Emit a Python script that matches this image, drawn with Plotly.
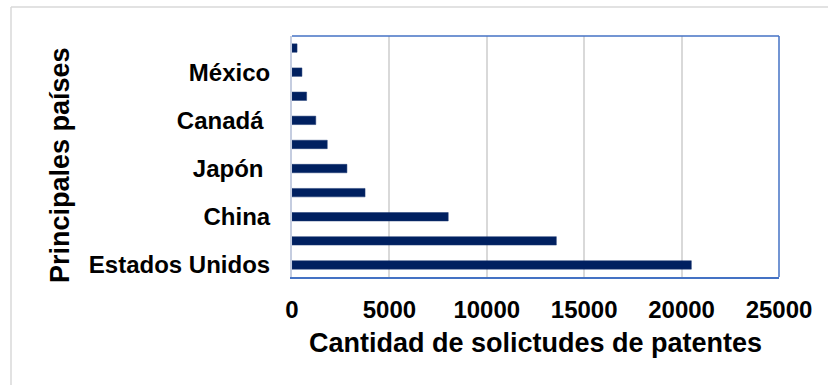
import plotly.graph_objects as go

# Data (bottom to top)
labels = ["Estados Unidos", "", "China", "", "Japón\u00a0", "", "Canadá\u00a0", "", "México", ""]
values = [20500, 13570, 8020, 3750, 2820, 1810, 1220, 750, 510, 260]
x_ticks = [0, 5000, 10000, 15000, 20000, 25000]
x_title = "Cantidad de solictudes de patentes"
y_title = "Principales países"

positions = list(range(len(values)))
tick_pos = [p for p, l in zip(positions, labels) if l]
tick_txt = [l for l in labels if l]

W, H = 828, 385
L, R, T, B = 292, 779, 36, 277

def px_x(px):
    return (px - L) / (R - L)

def px_y(py):
    return (B - py) / (B - T)

font_family = "Arial, 'Liberation Sans', sans-serif"

fig = go.Figure(
    go.Bar(
        x=values,
        y=positions,
        orientation="h",
        marker=dict(color="#002060", line=dict(color="#1f3a75", width=0.5)),
        width=0.35,
    )
)

fig.update_layout(
    width=W,
    height=H,
    margin=dict(l=L, r=W - R, t=T, b=H - B, pad=0),
    paper_bgcolor="white",
    plot_bgcolor="white",
    showlegend=False,
    font=dict(family=font_family, color="black", size=24, weight="bold"),
    xaxis=dict(
        range=[0, 25000],
        tickvals=x_ticks,
        ticktext=[str(v) for v in x_ticks],
        showgrid=True,
        gridcolor="#d9d9d9",
        gridwidth=1.5,
        zeroline=False,
        showline=True,
        linecolor="#4472c4",
        linewidth=1.5,
        ticks="",
        ticklabelstandoff=10,
        tickfont=dict(size=24, weight="bold", family=font_family),
        fixedrange=True,
    ),
    yaxis=dict(
        range=[-0.5, len(values) - 0.5],
        tickvals=tick_pos,
        ticktext=tick_txt,
        showgrid=False,
        zeroline=False,
        showline=True,
        linecolor="#c5cde0",
        linewidth=2,
        ticks="",
        ticklabelstandoff=15,
        tickfont=dict(size=24, weight="bold", family=font_family),
        fixedrange=True,
    ),
    shapes=[
        # plot frame top/right in blue
        dict(type="line", xref="paper", yref="paper", x0=0, x1=1, y0=1, y1=1,
             line=dict(color="#4472c4", width=1.5), layer="above"),
        dict(type="line", xref="paper", yref="paper", x0=1, x1=1, y0=0, y1=1,
             line=dict(color="#4472c4", width=1.5), layer="above"),
        # outer chart border (top and left visible)
        dict(type="line", xref="paper", yref="paper", x0=px_x(11), x1=px_x(830), y0=px_y(7), y1=px_y(7),
             line=dict(color="#d9d9d9", width=1.5), layer="above"),
        dict(type="line", xref="paper", yref="paper", x0=px_x(11), x1=px_x(11), y0=px_y(7), y1=px_y(390),
             line=dict(color="#d9d9d9", width=1.5), layer="above"),
    ],
    annotations=[
        dict(text=x_title, xref="paper", yref="paper", x=0.5, y=px_y(343),
             showarrow=False, xanchor="center", yanchor="middle",
             font=dict(size=27, weight="bold", family=font_family, color="black")),
        dict(text=y_title, xref="paper", yref="paper", x=px_x(60), y=px_y(165),
             showarrow=False, xanchor="center", yanchor="middle", textangle=-90,
             font=dict(size=27, weight="bold", family=font_family, color="black")),
    ],
)

fig.write_html("out.html", config={"displayModeBar": False})
